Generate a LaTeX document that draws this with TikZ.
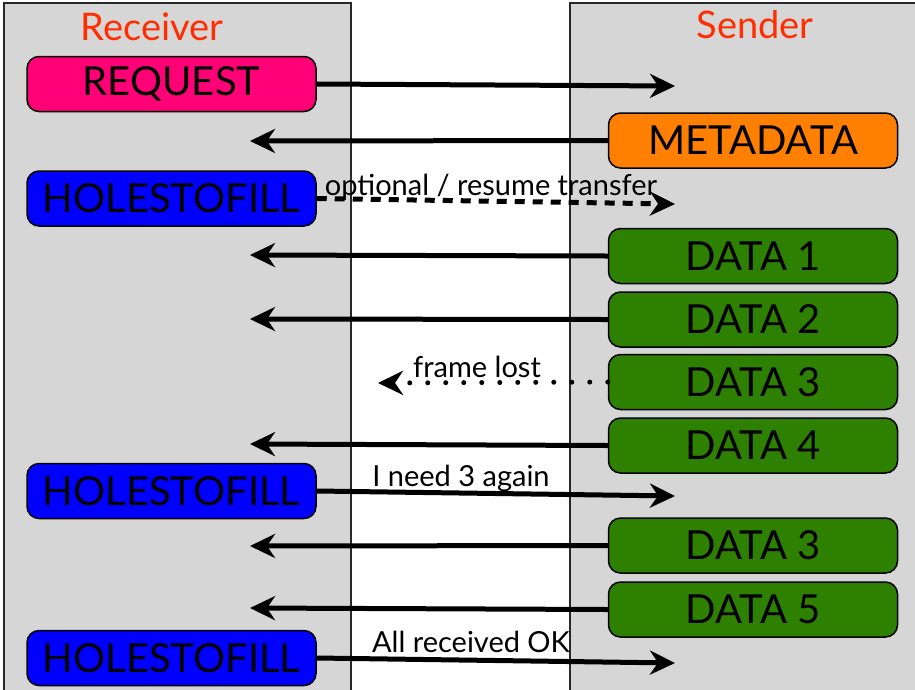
\documentclass[tikz,border=0pt]{standalone}
\usepackage{fontspec}
\setmainfont{Lato}
\usetikzlibrary{arrows.meta}
\definecolor{panelgray}{RGB}{214,214,214}
\definecolor{panelline}{RGB}{40,40,40}
\definecolor{titlered}{RGB}{255,45,0}
\definecolor{reqpink}{RGB}{255,0,119}
\definecolor{metaorange}{RGB}{255,127,0}
\definecolor{holeblue}{RGB}{0,0,255}
\definecolor{datagreen}{RGB}{45,128,0}
\tikzset{
  msgbox/.style={draw=black, line width=1.5pt, rounded corners=12pt,
    minimum width=289pt, minimum height=55pt, inner sep=0pt,
    font=\fontsize{40}{40}\selectfont},
  reqbox/.style={msgbox, fill=reqpink},
  metabox/.style={msgbox, fill=metaorange},
  holebox/.style={msgbox, fill=holeblue},
  databox/.style={msgbox, fill=datagreen},
  msg/.style={line width=5pt, -{Stealth[length=25pt,width=24pt,inset=8pt]}},
  title/.style={text=titlered, font=\fontsize{38}{38}\selectfont},
  lbl/.style={font=\fontsize{29}{29}\selectfont, inner sep=0pt, anchor=base}
}
\begin{document}
\begin{tikzpicture}[x=1pt,y=-1pt]
\useasboundingbox (0,0) rectangle (915,689);
\clip (0,0) rectangle (915,689);
% panels
\fill[panelgray] (4,3) rectangle (351,700);
\draw[panelline, line width=1.5pt] (4,700) -- (4,3) -- (351,3) -- (351,700);
\fill[panelgray] (570,3) rectangle (925,700);
\draw[panelline, line width=1.5pt] (570,700) -- (570,3) -- (925,3);
% titles
\node[title] (recv) at (152,27) {Receiver};
\node[title] (send) at (755,25) {Sender};
% receiver boxes
\node[reqbox] (req) at (171.5,84) {REQUEST};
\node[holebox] (h1) at (171.5,198.5) {HOLESTOFILL};
\node[holebox] (h2) at (171.5,491) {HOLESTOFILL};
\node[holebox] (h3) at (171.5,658) {HOLESTOFILL};
% sender boxes
\node[metabox] (meta) at (753,140.5) {METADATA};
\node[databox] (d1) at (753,256) {DATA 1};
\node[databox] (d2) at (753,319.5) {DATA 2};
\node[databox] (d3) at (753,382) {DATA 3};
\node[databox] (d4) at (753,445.5) {DATA 4};
\node[databox] (d3b) at (753,545.5) {DATA 3};
\node[databox] (d5) at (753,609.5) {DATA 5};
% arrow ends
\coordinate (e1) at (675,86);
\coordinate (e2) at (250,141);
\coordinate (e3) at (675,204);
\coordinate (e4) at (250,255);
\coordinate (e5) at (250,319);
\coordinate (e6) at (378,383);
\coordinate (e7) at (250,444);
\coordinate (e8) at (675,496);
\coordinate (e9) at (250,546);
\coordinate (e10) at (250,608);
\coordinate (e11) at (675,663);
% arrows
\draw[msg] (req.east) -- (e1);
\draw[msg] (meta.west) -- (e2);
\draw[msg, dash pattern=on 10pt off 8pt] (h1.east) -- (e3);
\draw[msg, dash pattern=on 0pt off 18pt, line cap=round] (d3.west) -- (e6);
\draw[msg] (d1.west) -- (e4);
\draw[msg] (d2.west) -- (e5);
\draw[msg] (d4.west) -- (e7);
\draw[msg] (h2.east) -- (e8);
\draw[msg] (d3b.west) -- (e9);
\draw[msg] (d5.west) -- (e10);
\draw[msg] (h3.east) -- (e11);
% labels
\node[lbl] (l1) at (491,195) {optional / resume transfer};
\node[lbl] (l2) at (477,377) {frame lost};
\node[lbl] (l3) at (461,486) {I need 3 again};
\node[lbl] (l4) at (471,652) {All received OK};
\end{tikzpicture}
\end{document}
